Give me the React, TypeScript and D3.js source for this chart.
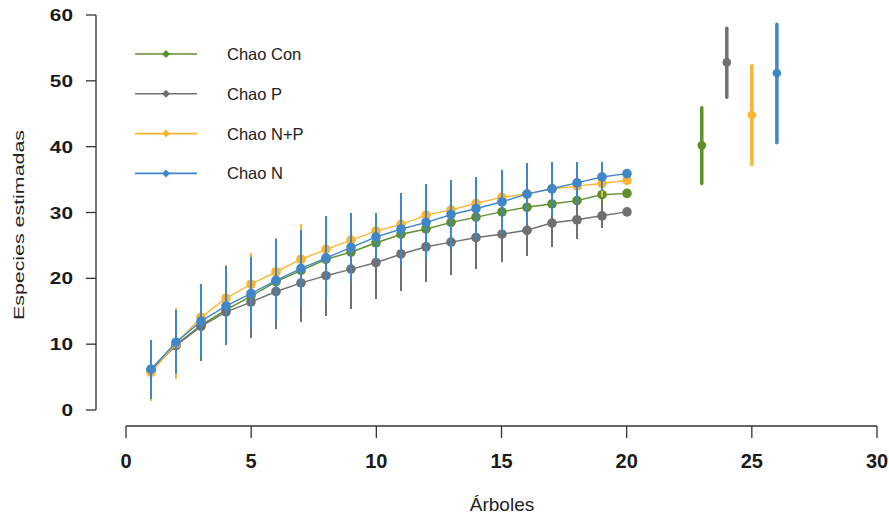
import React from "react";
import * as d3 from "d3";

const arboles = [1, 2, 3, 4, 5, 6, 7, 8, 9, 10, 11, 12, 13, 14, 15, 16, 17, 18, 19, 20];

const seriesNames = ["Chao Con", "Chao P", "Chao N+P", "Chao N"];
const seriesColors = ["#5e8f2d", "#6f7071", "#fbb532", "#3f87c9"];

const chaoCon = [6.0, 9.9, 12.9, 15.2, 17.3, 19.5, 21.2, 22.9, 24.0, 25.4, 26.7, 27.5, 28.5, 29.3, 30.1, 30.8, 31.3, 31.8, 32.7, 32.9];
const chaoConSd = [4.4, 4.8, 5.4, 5.4, 5.4, 5.4, 5.4, 5.4, 5.2, 4.5, 4.5, 4.3, 4.0, 3.8, 3.5, 3.2, 3.0, 2.5, 2.0, 0];

const chaoP = [6.1, 9.8, 12.7, 14.9, 16.4, 18.0, 19.3, 20.4, 21.4, 22.4, 23.7, 24.8, 25.5, 26.2, 26.7, 27.3, 28.4, 28.9, 29.5, 30.1];
const chaoPSd = [4.4, 4.6, 5.0, 5.1, 5.5, 5.7, 5.9, 6.1, 6.0, 5.6, 5.6, 5.3, 5.0, 4.8, 4.2, 3.9, 3.7, 3.0, 1.8, 0];

const chaoNP = [5.7, 10.1, 14.1, 17.0, 19.1, 21.0, 22.9, 24.4, 25.8, 27.2, 28.2, 29.6, 30.4, 31.4, 32.3, 32.8, 33.6, 34.0, 34.4, 34.9];
const chaoNPSd = [4.3, 5.4, 5.0, 5.0, 4.8, 5.2, 5.3, 4.8, 4.0, 2.8, 4.5, 4.5, 4.3, 4.0, 3.8, 3.5, 3.0, 2.5, 2.0, 0];

const chaoN = [6.2, 10.3, 13.5, 15.8, 17.7, 19.7, 21.5, 23.1, 24.7, 26.3, 27.5, 28.5, 29.7, 30.6, 31.6, 32.8, 33.6, 34.5, 35.4, 35.9];
const chaoNSd = [4.5, 4.9, 5.6, 6.0, 5.5, 6.2, 5.9, 6.4, 5.3, 3.7, 5.5, 5.8, 5.2, 4.8, 4.9, 4.7, 4.1, 3.1, 2.2, 0];

// Total Chao estimates shown to the right
const totalX = [23, 24, 25, 26];
const totalMean = [40.2, 52.8, 44.8, 51.2];
const totalLow = [34.4, 47.5, 37.3, 40.6];
const totalHigh = [45.9, 58.0, 52.3, 58.6];

const xTicks = [0, 5, 10, 15, 20, 25, 30];
const yTicks = [0, 10, 20, 30, 40, 50, 60];

const allMeans = [chaoCon, chaoP, chaoNP, chaoN];
const allSds = [chaoConSd, chaoPSd, chaoNPSd, chaoNSd];

export default function App() {
  const W = 889;
  const H = 517;
  const x = d3.scaleLinear().domain([0, 30]).range([126, 877]);
  const y = d3.scaleLinear().domain([0, 60]).range([410, 15]);
  const line = d3
    .line<number>()
    .x((_, i) => x(arboles[i]))
    .y((d) => y(d));
  const font = "'Liberation Sans', Arial, sans-serif";

  return (
    <svg width={W} height={H} style={{ position: "absolute", left: 0, top: 0, background: "#fff" }}>
      {/* Y axis */}
      <line x1={96} x2={96} y1={y(60)} y2={y(0)} stroke="#333" strokeWidth={1.3} />
      {yTicks.map((t) => (
        <g key={"yt" + t}>
          <line x1={86} x2={96} y1={y(t)} y2={y(t)} stroke="#333" strokeWidth={1.3} />
          <text
            transform={`translate(73,${y(t) + 6}) scale(1.3,1)`}
            textAnchor="end"
            fontFamily={font}
            fontWeight="bold"
            fontSize={16}
            fill="#1a1a1a"
          >
            {t}
          </text>
        </g>
      ))}
      <text
        transform={`translate(24,${225}) rotate(-90)`}
        textAnchor="middle"
        fontFamily={font}
        fontSize={15}
        fill="#222"
        textLength={190}
        lengthAdjust="spacingAndGlyphs"
      >
        Especies estimadas
      </text>

      {/* X axis */}
      <line x1={x(0)} x2={x(30)} y1={426} y2={426} stroke="#333" strokeWidth={1.3} />
      {xTicks.map((t) => (
        <g key={"xt" + t}>
          <line x1={x(t)} x2={x(t)} y1={426} y2={438} stroke="#333" strokeWidth={1.3} />
          <text x={x(t)} y={468} textAnchor="middle" fontFamily={font} fontWeight="bold" fontSize={20} fill="#1a1a1a">
            {t}
          </text>
        </g>
      ))}
      <text x={502} y={511} textAnchor="middle" fontFamily={font} fontSize={19} fill="#222">
        Árboles
      </text>

      {/* Accumulation curves */}
      {allMeans.map((means, si) => {
        const c = seriesColors[si];
        const sds = allSds[si];
        return (
          <g key={"s" + si}>
            <path d={line(means) || ""} fill="none" stroke={c} strokeWidth={1.4} />
            {means.map((m, i) =>
              sds[i] > 0 ? (
                <line
                  key={"e" + i}
                  x1={Math.round(x(arboles[i]))}
                  x2={Math.round(x(arboles[i]))}
                  y1={y(m - sds[i])}
                  y2={y(m + sds[i])}
                  stroke={c}
                  strokeWidth={2}
                  shapeRendering="crispEdges"
                />
              ) : null
            )}
            {means.map((m, i) => (
              <circle key={"p" + i} cx={Math.round(x(arboles[i]))} cy={y(m)} r={4.8} fill={c} />
            ))}
          </g>
        );
      })}

      {/* Total estimates */}
      {totalX.map((tx, i) => (
        <g key={"t" + i}>
          <line
            x1={x(tx)}
            x2={x(tx)}
            y1={y(totalLow[i])}
            y2={y(totalHigh[i])}
            stroke={seriesColors[i]}
            strokeWidth={3.5}
            strokeLinecap="round"
          />
          <circle cx={x(tx)} cy={y(totalMean[i])} r={4.3} fill={seriesColors[i]} />
        </g>
      ))}

      {/* Legend */}
      {seriesNames.map((n, i) => {
        const ly = 54 + i * 39.8;
        return (
          <g key={"l" + i}>
            <line x1={135} x2={197} y1={ly} y2={ly} stroke={seriesColors[i]} strokeWidth={1.6} />
            <path
              d={`M166,${ly - 4}L170,${ly}L166,${ly + 4}L162,${ly}Z`}
              fill={seriesColors[i]}
            />
            <text x={227} y={ly + 6} fontFamily={font} fontSize={16.5} fill="#222">
              {n}
            </text>
          </g>
        );
      })}
    </svg>
  );
}
